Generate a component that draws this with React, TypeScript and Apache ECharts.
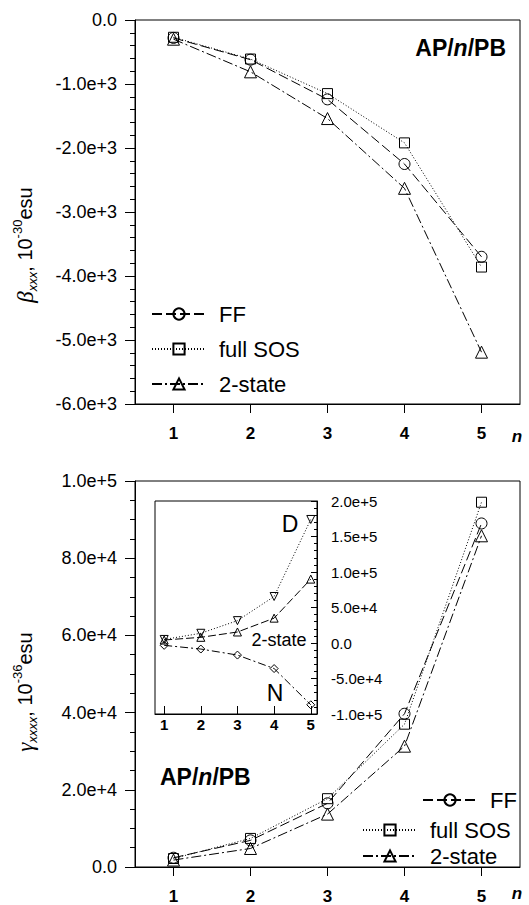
import React, { useEffect, useRef } from "react";
import * as echarts from "echarts";

const nValues = [1, 2, 3, 4, 5];
const betaFF = [-280, -620, -1240, -2250, -3700];
const betaSOS = [-270, -610, -1150, -1920, -3860];
const beta2 = [-300, -810, -1540, -2630, -5190];
const gammaFF = [2400, 6900, 16500, 39700, 89000];
const gammaSOS = [2200, 7400, 17700, 37000, 94500];
const gamma2 = [1800, 4800, 13700, 31300, 85800];
const insetD = [5000, 13700, 31500, 65500, 174000];
const inset2 = [4200, 8000, 15500, 35000, 90000];
const insetN = [-3300, -8500, -17000, -36000, -87000];

const FONT = "'Liberation Sans', Arial, sans-serif";
const SERIF = "'Liberation Serif', 'Times New Roman', serif";

const pairs = (vals: number[]) => vals.map((v, i) => [nValues[i], v]);
const expFmt = (v: number) => (v === 0 ? "0.0" : v.toExponential(1));

function mkSeries(name: string, data: number[], idx: number, symbol: string, size: number, dash: any, rotate = 0) {
  return {
    name,
    type: "line",
    xAxisIndex: idx,
    yAxisIndex: idx,
    data: pairs(data),
    symbol,
    symbolSize: size,
    symbolRotate: rotate,
    showSymbol: true,
    itemStyle: { color: "rgba(0,0,0,0)", borderColor: "#000", borderWidth: 1 },
    lineStyle: { color: "#000", width: 1, type: dash },
    emphasis: { disabled: true },
    z: 3,
  };
}

const titleRich = {
  g: { fontSize: 23, fontStyle: "italic", fontFamily: SERIF, fill: "#000", lineHeight: 28 },
  s: { fontSize: 13, fontStyle: "italic", fontFamily: FONT, fill: "#000", verticalAlign: "bottom", lineHeight: 13 },
  t: { fontSize: 20, fontFamily: FONT, fill: "#000", lineHeight: 28 },
  p: { fontSize: 13, fontFamily: FONT, fill: "#000", verticalAlign: "top", lineHeight: 13 },
};

const apRich = {
  a: { fontSize: 23, fontWeight: "bold", fontFamily: FONT, fill: "#000" },
  b: { fontSize: 23, fontWeight: "bold", fontStyle: "italic", fontFamily: FONT, fill: "#000" },
};

export default function App() {
  const ref = useRef<HTMLDivElement>(null);
  useEffect(() => {
    const chart = echarts.init(ref.current!, null, { renderer: "svg" });
    const mainX = (gridIndex: number) => ({
      type: "value",
      gridIndex,
      min: 0.5,
      max: 5.5,
      axisLine: { show: true, onZero: false, lineStyle: { color: "#000", width: 1 } },
      axisTick: { show: true, inside: false, length: 9, customValues: nValues, lineStyle: { color: "#000" } },
      axisLabel: { show: true, customValues: nValues, margin: 21, color: "#000", fontSize: 17, fontWeight: "bold", fontFamily: FONT },
      splitLine: { show: false },
    });
    const legendCommon = {
      orient: "vertical",
      selectedMode: false,
      itemWidth: 54,
      itemHeight: 14,
      textStyle: { color: "#000", fontSize: 22, fontFamily: FONT, padding: [0, 0, 0, 8] },
    };
    const option: any = {
      animation: false,
      backgroundColor: "#fff",
      grid: [
        { left: 135, top: 20, width: 385, height: 384, show: true, borderColor: "#000", borderWidth: 1, backgroundColor: "transparent" },
        { left: 135, top: 481, width: 385, height: 387, show: true, borderColor: "#000", borderWidth: 1, backgroundColor: "transparent" },
        { left: 155, top: 501, width: 162, height: 213, show: true, borderColor: "#000", borderWidth: 1, backgroundColor: "#fff" },
      ],
      xAxis: [
        mainX(0),
        mainX(1),
        {
          type: "value",
          gridIndex: 2,
          min: 0.75,
          max: 5.17,
          axisLine: { show: true, onZero: false, lineStyle: { color: "#000" } },
          axisTick: { show: true, inside: true, length: 8, customValues: nValues, lineStyle: { color: "#000" } },
          axisLabel: { show: true, customValues: nValues, margin: 3, color: "#000", fontSize: 15, fontWeight: "bold", fontFamily: FONT },
          splitLine: { show: false },
        },
      ],
      yAxis: [
        {
          type: "value",
          gridIndex: 0,
          min: -6000,
          max: 0,
          interval: 1000,
          axisLine: { show: true, onZero: false, lineStyle: { color: "#000" } },
          axisTick: { show: true, inside: false, length: 10, lineStyle: { color: "#000" } },
          minorTick: { show: true, splitNumber: 5, length: 5, lineStyle: { color: "#000" } },
          axisLabel: { formatter: expFmt, margin: 18, color: "#000", fontSize: 18, fontFamily: FONT },
          splitLine: { show: false },
        },
        {
          type: "value",
          gridIndex: 1,
          min: 0,
          max: 100000,
          interval: 20000,
          axisLine: { show: true, onZero: false, lineStyle: { color: "#000" } },
          axisTick: { show: true, inside: false, length: 10, lineStyle: { color: "#000" } },
          minorTick: { show: true, splitNumber: 4, length: 5, lineStyle: { color: "#000" } },
          axisLabel: { formatter: expFmt, margin: 18, color: "#000", fontSize: 18, fontFamily: FONT },
          splitLine: { show: false },
        },
        {
          type: "value",
          gridIndex: 2,
          position: "right",
          min: -100000,
          max: 200000,
          interval: 50000,
          axisLine: { show: true, onZero: false, lineStyle: { color: "#000" } },
          axisTick: { show: true, inside: true, length: 6, lineStyle: { color: "#000" } },
          minorTick: { show: true, splitNumber: 5, length: 3, lineStyle: { color: "#000" } },
          axisLabel: { formatter: expFmt, margin: 14, color: "#000", fontSize: 15, fontFamily: FONT },
          splitLine: { show: false },
        },
      ],
      legend: [
        { ...legendCommon, left: 146, top: 298, itemGap: 13, data: ["FF", "full SOS", "2-state"] },
        { ...legendCommon, left: 417, top: 784, itemGap: 4, data: ["FF"] },
        { ...legendCommon, left: 357, top: 814, itemGap: 4, data: ["full SOS", "2-state"] },
      ],
      series: [
        mkSeries("FF", betaFF, 0, "circle", 11, [10, 4]),
        mkSeries("full SOS", betaSOS, 0, "rect", 10, [1, 2]),
        mkSeries("2-state", beta2, 0, "triangle", 12, [10, 3, 2, 3]),
        mkSeries("FF", gammaFF, 1, "circle", 11, [10, 4]),
        mkSeries("full SOS", gammaSOS, 1, "rect", 10, [1, 2]),
        mkSeries("2-state", gamma2, 1, "triangle", 12, [10, 3, 2, 3]),
        mkSeries("D", insetD, 2, "triangle", 8, [1, 2], 180),
        mkSeries("2-state (inset)", inset2, 2, "triangle", 8, [8, 3]),
        mkSeries("N", insetN, 2, "diamond", 8, [8, 3, 2, 3]),
      ],
      graphic: [
        { type: "text", x: 506, y: 48, style: { text: "{a|AP/}{b|n}{a|/PB}", align: "right", verticalAlign: "middle", rich: apRich } },
        { type: "text", x: 160, y: 777, style: { text: "{a|AP/}{b|n}{a|/PB}", align: "left", verticalAlign: "middle", rich: apRich } },
        { type: "text", x: 517, y: 436, style: { text: "n", align: "center", verticalAlign: "middle", fontSize: 17, fontWeight: "bold", fontStyle: "italic", fontFamily: FONT, fill: "#000" } },
        { type: "text", x: 517, y: 893, style: { text: "n", align: "center", verticalAlign: "middle", fontSize: 17, fontWeight: "bold", fontStyle: "italic", fontFamily: FONT, fill: "#000" } },
        { type: "text", x: 290, y: 524, z: 10, style: { text: "D", align: "center", verticalAlign: "middle", fontSize: 23, fontFamily: FONT, fill: "#000" } },
        { type: "text", x: 275, y: 693, z: 10, style: { text: "N", align: "center", verticalAlign: "middle", fontSize: 23, fontFamily: FONT, fill: "#000" } },
        { type: "text", x: 279, y: 640, z: 10, style: { text: "2-state", align: "center", verticalAlign: "middle", fontSize: 18, fontFamily: FONT, fill: "#000" } },
        { type: "text", x: 25, y: 245, rotation: Math.PI / 2, style: { text: "{g|β}{s|xxx}{t|, 10}{p|-30}{t|esu}", align: "center", verticalAlign: "middle", rich: titleRich } },
        { type: "text", x: 25, y: 692, rotation: Math.PI / 2, style: { text: "{g|γ}{s|xxxx}{t|, 10}{p|-36}{t|esu}", align: "center", verticalAlign: "middle", rich: titleRich } },
      ],
    };
    chart.setOption(option);
    return () => chart.dispose();
  }, []);
  return <div ref={ref} style={{ position: "fixed", left: 0, top: 0, width: 529, height: 905 }} />;
}
